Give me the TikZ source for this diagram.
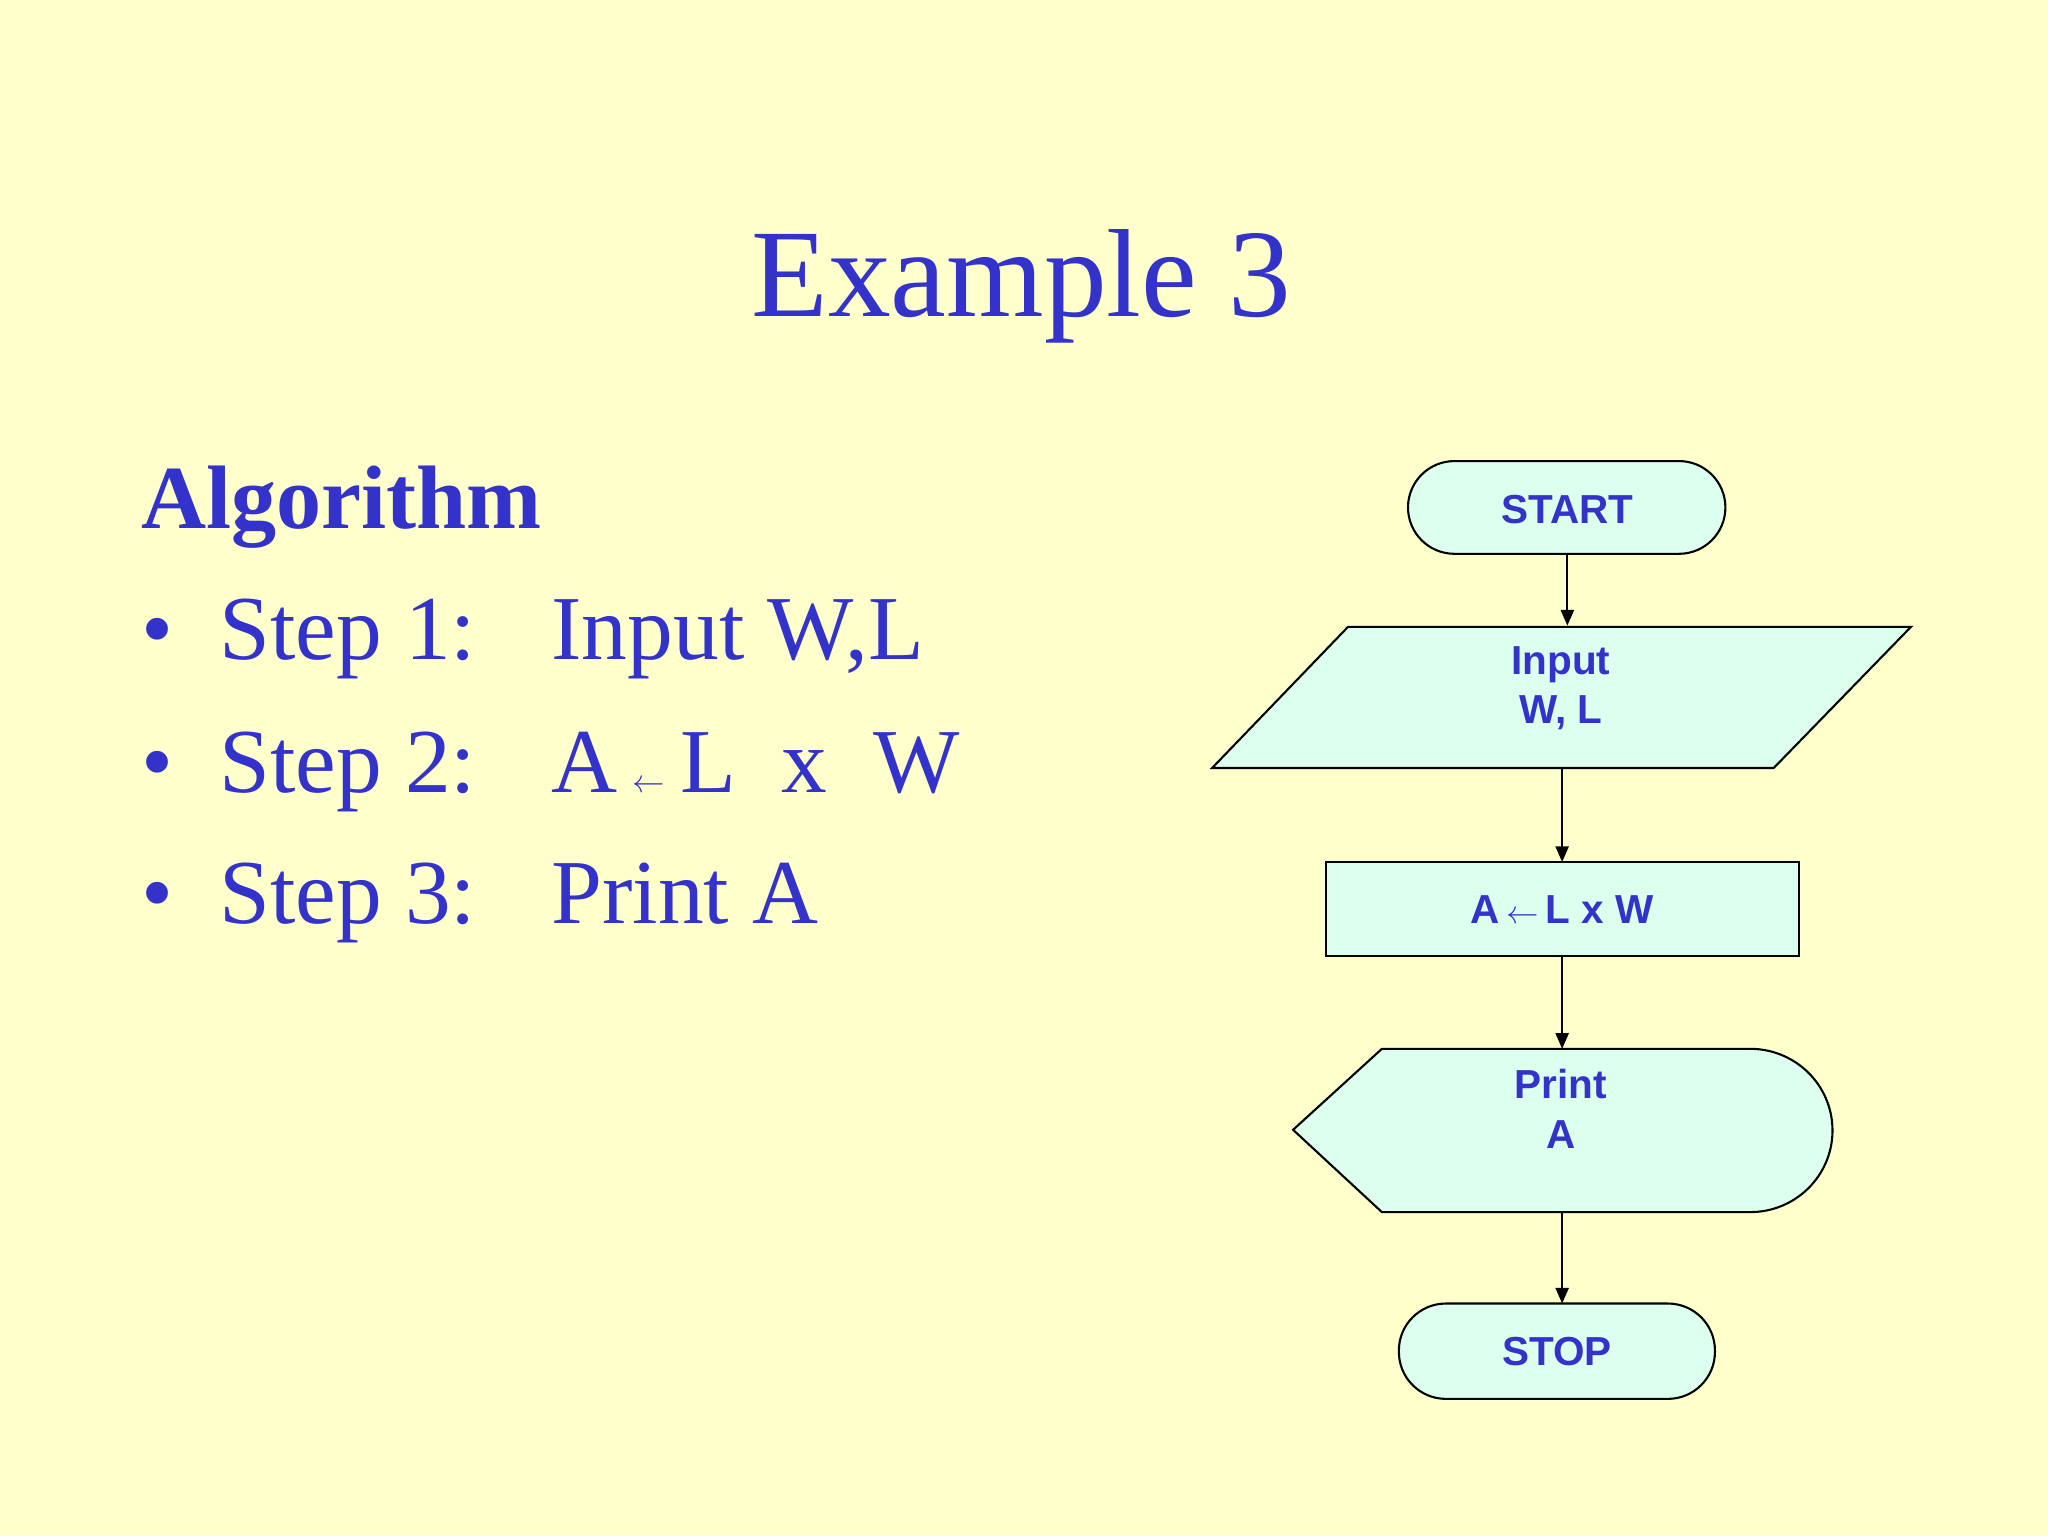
\documentclass[tikz,border=0pt]{standalone}
\usepackage{fontspec}
\setmainfont{Liberation Serif}
\newfontfamily\fsans{Liberation Sans}
\usetikzlibrary{arrows.meta}
\definecolor{bg}{HTML}{FFFFCC}
\definecolor{ink}{HTML}{3333CC}
\definecolor{boxfill}{HTML}{DDFFEE}
\tikzset{x=1pt,y=-1pt,
 shapeline/.style={draw=black,line width=1.6pt,fill=boxfill},
 fctext/.style={text=ink,font=\fsans\bfseries\fontsize{31}{38}\selectfont,align=center},
 bigtext/.style={text=ink,font=\fontsize{70}{80}\selectfont,anchor=base west,inner sep=0},
 conn/.style={draw=black,line width=1.6pt,-{Triangle[length=12pt,width=10pt]}}}
\begin{document}
\begin{tikzpicture}
\fill[bg] (0,0) rectangle (1568,1176);
\useasboundingbox (0,0) rectangle (1568,1176);
\node[text=ink,font=\fontsize{96}{110}\selectfont,anchor=base,inner sep=0] (title) at (782,242) {Example 3};
\node[bigtext,font=\bfseries\fontsize{69}{80}\selectfont] (alg) at (108,405) {Algorithm};
\node[bigtext] (b1) at (108,505) {•};
\node[bigtext] (s1) at (168,505) {Step 1:};
\node[bigtext] (t1) at (422,505) {Input W,L};
\node[bigtext] (b2) at (108,607) {•};
\node[bigtext] (s2) at (168,607) {Step 2:};
\node[bigtext] (t2) at (422,607) {A\,$\leftarrow$\,L\ \ x\ \ W};
\node[bigtext] (b3) at (108,707) {•};
\node[bigtext] (s3) at (168,707) {Step 3:};
\node[bigtext] (t3) at (422,707) {Print A};
% START
\draw[shapeline,rounded corners=35.5pt] (1078,353) rectangle (1321,424);
\node[fctext] (start) at (1200,390) {START};
% input
\draw[shapeline] (1032,480) -- (1463,480) -- (1358,588) -- (928,588) -- cycle;
\node[fctext] (input) at (1195,527) {Input\\W, L};
% process
\draw[shapeline] (1015,660) rectangle (1377,732);
\node[fctext] (proc) at (1196,696) {A\,$\leftarrow$\,L x W};
% display
\draw[shapeline] (990,865) -- (1058,803) -- (1340,803) arc[start angle=-90,end angle=90,x radius=63,y radius=62.5] -- (1058,928) -- cycle;
\node[fctext] (print) at (1195,849) {Print\\A};
% STOP
\draw[shapeline,rounded corners=36pt] (1071,998) rectangle (1313,1071);
\node[fctext] (stop) at (1192,1035) {STOP};
% connectors
\coordinate (a1) at (1200,424); \coordinate (a2) at (1200,479);
\coordinate (c1) at (1196,588); \coordinate (c2) at (1196,660);
\coordinate (d1) at (1196,732); \coordinate (d2) at (1196,803);
\coordinate (e1) at (1196,928); \coordinate (e2) at (1196,998);
\draw[conn] (a1) -- (a2);
\draw[conn] (c1) -- (c2);
\draw[conn] (d1) -- (d2);
\draw[conn] (e1) -- (e2);
\end{tikzpicture}
\end{document}
